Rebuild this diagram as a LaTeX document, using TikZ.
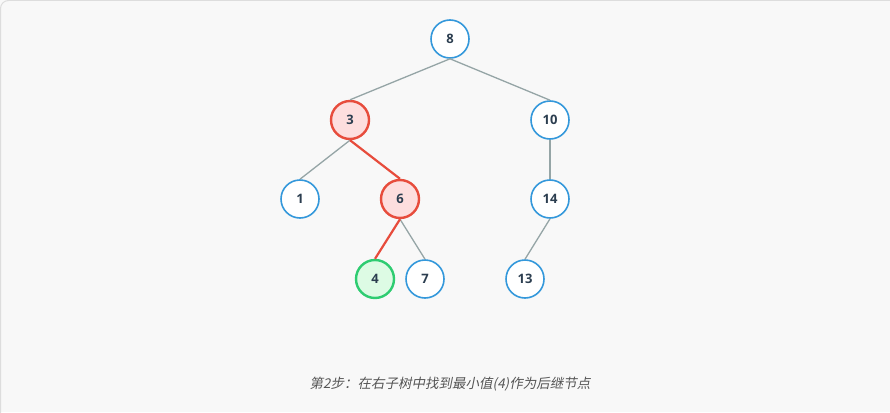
\documentclass[tikz,border=0pt]{standalone}
\usepackage{fontspec}
\setmainfont{Open Sans}
\newfontfamily\cjk[FakeSlant=0.2]{Noto Sans CJK SC}
\usepackage{tikz}
\usetikzlibrary{positioning}
\definecolor{bgpanel}{HTML}{F8F8F8}
\definecolor{panelline}{HTML}{DDDDDD}
\definecolor{nodeblue}{HTML}{3498DB}
\definecolor{pathred}{HTML}{E74C3C}
\definecolor{redfill}{HTML}{FDDEDE}
\definecolor{succgreen}{HTML}{2ECC71}
\definecolor{greenfill}{HTML}{DDFBE4}
\definecolor{edgegray}{HTML}{95A5A6}
\definecolor{textdark}{HTML}{2C3E50}
\definecolor{captiongray}{HTML}{555555}
\tikzset{
  bst/.style={circle, draw=nodeblue, line width=1.6pt, fill=white, minimum size=38pt,
    inner sep=0pt, text=textdark, font=\fontsize{13}{14}\selectfont\bfseries},
  onpath/.style={bst, draw=pathred, line width=2.4pt, fill=redfill},
  found/.style={bst, draw=succgreen, line width=2.4pt, fill=greenfill},
  tree/.style={draw=edgegray, line width=1.3pt},
  walk/.style={draw=pathred, line width=2.2pt}
}
\begin{document}
\begin{tikzpicture}[x=1pt,y=-1pt]
  % panel background
  \useasboundingbox (0,0) rectangle (890,412);
  \fill[bgpanel] (0,0) rectangle (890,412);
  \begin{scope}
    \clip (0,0) rectangle (890,412);
    \draw[panelline, line width=1pt, rounded corners=8pt] (0.5,0.5) rectangle (900,430);
  \end{scope}
  % nodes of the tree
  \node[bst]     (n8)  at (450,39)  {8};
  \node[onpath]  (n3)  at (350,120) {3};
  \node[bst]     (n10) at (550,120) {10};
  \node[bst]     (n1)  at (300,199) {1};
  \node[onpath]  (n6)  at (400,199) {6};
  \node[bst]     (n14) at (550,199) {14};
  \node[found]   (n4)  at (375,279) {4};
  \node[bst]     (n7)  at (425,279) {7};
  \node[bst]     (n13) at (525,279) {13};
  % edges, bottom of parent to top of child
  \draw[tree] (n8.south) -- (n3.north);
  \draw[tree] (n8.south) -- (n10.north);
  \draw[tree] (n3.south) -- (n1.north);
  \draw[tree] (n6.south) -- (n7.north);
  \draw[tree] (n10.south) -- (n14.north);
  \draw[tree] (n14.south) -- (n13.north);
  % search path in the right subtree
  \draw[walk] (n3.south) -- (n6.north);
  \draw[walk] (n6.south) -- (n4.north);
  % caption
  \node[text=captiongray, font=\cjk\fontsize{13.5}{16}\selectfont] (caption) at (450,384)
    {第2步：在右子树中找到最小值(4)作为后继节点};
\end{tikzpicture}
\end{document}
